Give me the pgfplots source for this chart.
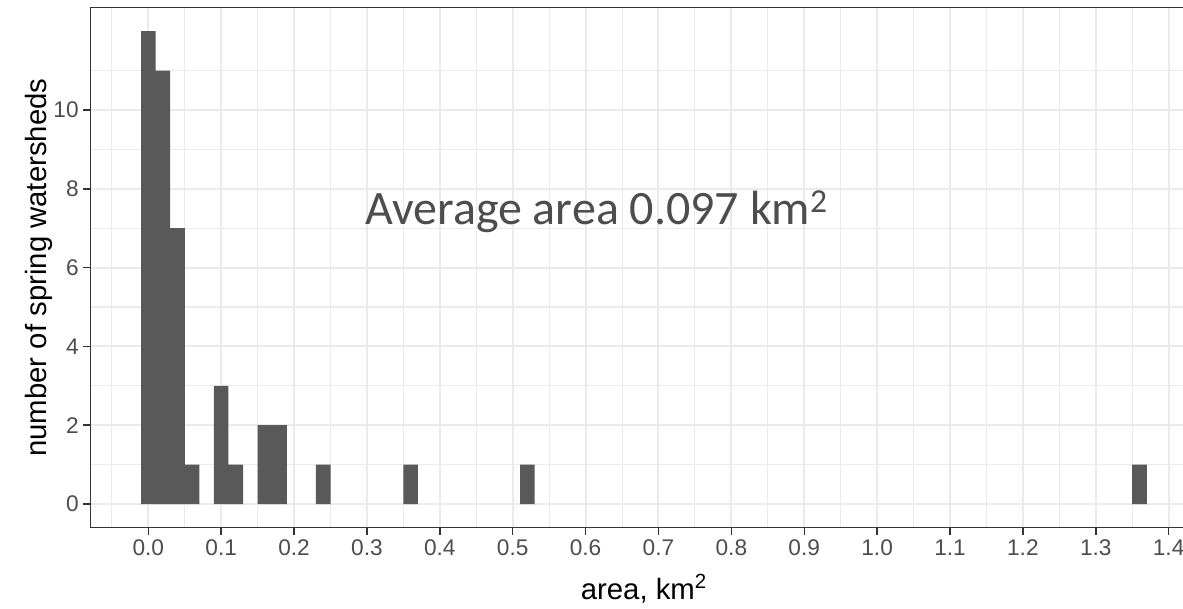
\documentclass[border=0pt]{standalone}
\usepackage{fontspec}
\setmainfont{Liberation Sans}
\newfontfamily\calib{Carlito}
\usepackage{pgfplots}
\pgfplotsset{compat=1.18}
\definecolor{barc}{HTML}{595959}
\definecolor{gridc}{HTML}{EBEBEB}
\definecolor{tickc}{HTML}{4D4D4D}
\definecolor{axc}{HTML}{333333}
\begin{document}
\begin{tikzpicture}
\begin{axis}[
  x=546.6pt, y=29.55pt,
  xmin=-0.079, xmax=1.439, ymin=-0.6, ymax=12.6,
  clip=false,
  axis line style={axc, line width=1.1pt},
  xtick={0,0.1,0.2,0.3,0.4,0.5,0.6,0.7,0.8,0.9,1.0,1.1,1.2,1.3,1.4},
  ytick={0,2,4,6,8,10},
  minor xtick={-0.05,0.05,0.15,0.25,0.35,0.45,0.55,0.65,0.75,0.85,0.95,1.05,1.15,1.25,1.35},
  minor ytick={1,3,5,7,9,11},
  grid=both,
  major grid style={gridc, line width=1.5pt},
  minor grid style={gridc, line width=0.8pt},
  minor tick length=0pt,
  major tick length=5.5pt,
  tick align=outside,
  xtick pos=left, ytick pos=left,
  tick style={axc, line width=1.1pt},
  xticklabel style={/pgf/number format/fixed, /pgf/number format/fixed zerofill, /pgf/number format/precision=1},
  ticklabel style={font=\fontsize{17}{20}\selectfont, text=tickc},
  /pgf/number format/assume math mode=true,
]
\addplot[ybar, bar width=0.02, fill=barc, draw=none] coordinates {
(0.00,12) (0.02,11) (0.04,7) (0.06,1) (0.10,3) (0.12,1) (0.16,2) (0.18,2) (0.24,1) (0.36,1) (0.52,1) (1.36,1)
};
\node[anchor=base west, inner sep=0pt, text=tickc, font=\calib\fontsize{36}{40}\selectfont] at (axis cs:0.2973,7.099) {Average area 0.097 km\textsuperscript{2}};
\node[anchor=base, inner sep=0pt, font=\fontsize{22}{26}\selectfont] at (axis cs:0.68,-2.411) {area, km\textsuperscript{2}};
\node[anchor=base, rotate=90, inner sep=0pt, font=\fontsize{22}{26}\selectfont] at (axis cs:-0.1397,6.0) {number of spring watersheds};
\coordinate (bbA) at (axis cs:-0.2035,-2.6396);
\coordinate (bbB) at (axis cs:1.4197,12.792);
\end{axis}
\pgfresetboundingbox
\path[use as bounding box] (bbA) rectangle (bbB);
\end{tikzpicture}
\end{document}
